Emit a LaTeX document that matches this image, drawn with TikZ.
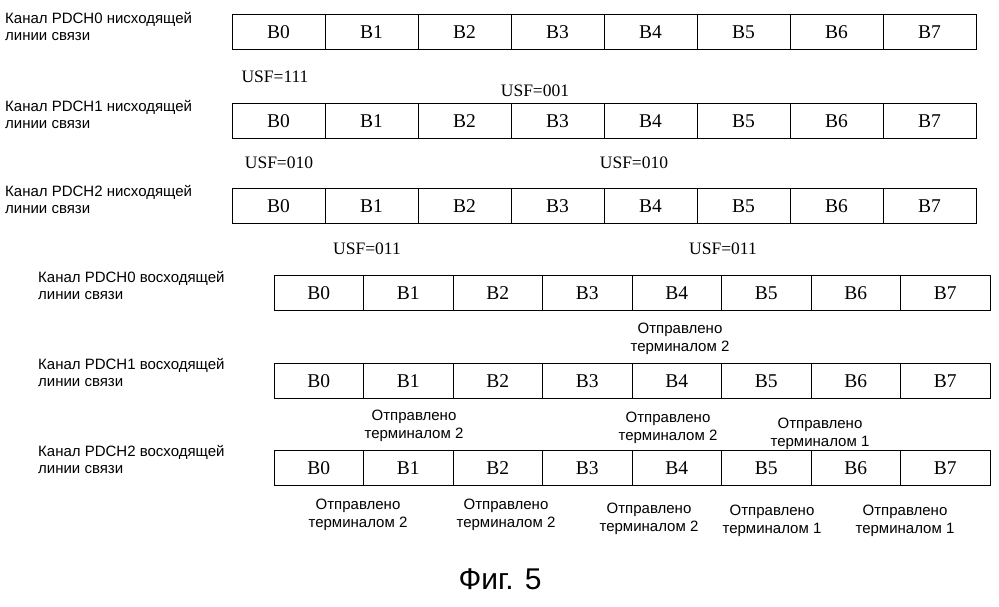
\documentclass[tikz,border=0pt]{standalone}
\usepackage{fontspec}
\setmainfont{Liberation Serif}
\newfontfamily\arial{Liberation Sans}
\begin{document}
\begin{tikzpicture}[x=1pt,y=-1pt,
 cell/.style={draw,thick,minimum height=35pt,inner sep=0pt,font=\fontsize{19.5}{19.5}\selectfont},
 lab/.style={font=\arial\fontsize{15}{17}\selectfont,align=left,anchor=north west,inner sep=0pt},
 usf/.style={font=\fontsize{17.5}{17.5}\selectfont,inner sep=0pt},
 sent/.style={font=\arial\fontsize{15}{18}\selectfont,align=center,inner sep=0pt}]
\useasboundingbox (0,0) rectangle (999,606);
\foreach \r/\xs/\w/\yc in {d0/232/93/32, d1/232/93/121, d2/232/93/206, u0/274/89.5/293, u1/274/89.5/381, u2/274/89.5/468}{
  \foreach \i in {0,...,7}{
    \node[cell,minimum width=\w pt] (\r b\i) at ({\xs+\w*(\i+0.5)},\yc) {B\i};
  }
}
\node[lab] (l0) at (5,12) {Канал PDCH0 нисходящей\\линии связи};
\node[lab] (l1) at (5,100) {Канал PDCH1 нисходящей\\линии связи};
\node[lab] (l2) at (5,185) {Канал PDCH2 нисходящей\\линии связи};
\node[lab] (l3) at (38,271) {Канал PDCH0 восходящей\\линии связи};
\node[lab] (l4) at (38,358) {Канал PDCH1 восходящей\\линии связи};
\node[lab] (l5) at (38,445) {Канал PDCH2 восходящей\\линии связи};
\node[usf] (s1) at (275,77) {USF=111};
\node[usf] (s2) at (535,91) {USF=001};
\node[usf] (s3) at (279,163) {USF=010};
\node[usf] (s4) at (634,163) {USF=010};
\node[usf] (s5) at (367,249) {USF=011};
\node[usf] (s6) at (723,249) {USF=011};
\node[sent] (t1) at (680,339) {Отправлено\\терминалом 2};
\node[sent] (t2) at (414,426) {Отправлено\\терминалом 2};
\node[sent] (t3) at (668,428) {Отправлено\\терминалом 2};
\node[sent] (t4) at (820,434) {Отправлено\\терминалом 1};
\node[sent] (t5) at (358,515) {Отправлено\\терминалом 2};
\node[sent] (t6) at (506,515) {Отправлено\\терминалом 2};
\node[sent] (t7) at (649,519) {Отправлено\\терминалом 2};
\node[sent] (t8) at (772,521) {Отправлено\\терминалом 1};
\node[sent] (t9) at (905,521) {Отправлено\\терминалом 1};
\node[font=\arial\fontsize{30}{30}\selectfont] (fig) at (500,579) {Фиг. 5};
\end{tikzpicture}
\end{document}
